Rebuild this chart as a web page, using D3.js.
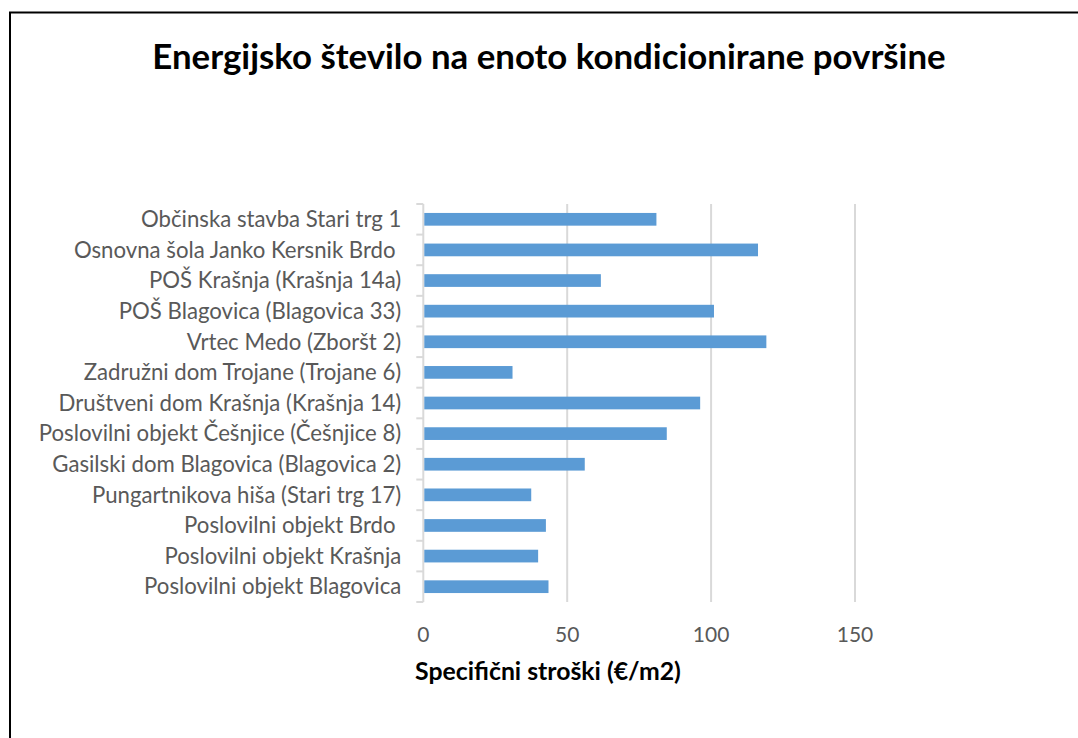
<!DOCTYPE html>
<html>
<head>
<meta charset="utf-8">
<script src="https://cdn.jsdelivr.net/npm/d3@7"></script>
<style>
  body { margin: 0; background: #fff; }
  svg { display: block; font-family: Lato, "Open Sans", sans-serif; }
</style>
</head>
<body>
<div class="chart"></div>
<script>
// categories top to bottom
const buildings = [
  "Občinska stavba Stari trg 1",
  "Osnovna šola Janko Kersnik Brdo ",
  "POŠ Krašnja (Krašnja 14a)",
  "POŠ Blagovica (Blagovica 33)",
  "Vrtec Medo (Zboršt 2)",
  "Zadružni dom Trojane (Trojane 6)",
  "Društveni dom Krašnja (Krašnja 14)",
  "Poslovilni objekt Češnjice (Češnjice 8)",
  "Gasilski dom Blagovica (Blagovica 2)",
  "Pungartnikova hiša (Stari trg 17)",
  "Poslovilni objekt Brdo ",
  "Poslovilni objekt Krašnja",
  "Poslovilni objekt Blagovica"
];
// specific costs in €/m2
const costs = [81.0, 116.3, 61.7, 101.0, 119.2, 31.0, 96.2, 84.6, 56.1, 37.5, 42.6, 39.9, 43.5];
const xTicks = [0, 50, 100, 150];

const titleText = "Energijsko število na enoto kondicionirane površine";
const xTitle = "Specifični stroški (€/m2)";

let width = 1078,
  height = 738,
  margin = { top: 204, right: 223, bottom: 136, left: 423.3 };

let svg = d3.select(".chart").append("svg")
  .attr("width", width)
  .attr("height", height);

// outer frame (runs off the right and bottom edges)
svg.append("rect")
  .attr("x", 10)
  .attr("y", 12.5)
  .attr("width", width + 20)
  .attr("height", height + 20)
  .attr("fill", "none")
  .attr("stroke", "#000")
  .attr("stroke-width", 2);

let x = d3.scaleLinear()
  .domain([0, 150])
  .range([margin.left, width - margin.right]);

let y = d3.scaleBand()
  .domain(buildings)
  .range([margin.top, height - margin.bottom])
  .paddingInner(0.585)
  .paddingOuter(0.2925);

// vertical gridlines
svg.append("g")
  .selectAll("line")
  .data(xTicks.filter((d) => d > 0))
  .join("line")
  .attr("x1", (d) => x(d))
  .attr("x2", (d) => x(d))
  .attr("y1", margin.top)
  .attr("y2", height - margin.bottom)
  .attr("stroke", "#d9d9d9")
  .attr("stroke-width", 2);

// category axis with ticks between the categories
let step = y.step();
let yAxis = svg.append("g");
yAxis.append("line")
  .attr("x1", x(0))
  .attr("x2", x(0))
  .attr("y1", margin.top)
  .attr("y2", height - margin.bottom)
  .attr("stroke", "#d9d9d9")
  .attr("stroke-width", 2);
yAxis.selectAll(".tick")
  .data(d3.range(buildings.length + 1))
  .join("line")
  .attr("class", "tick")
  .attr("x1", x(0) - 7)
  .attr("x2", x(0))
  .attr("y1", (i) => margin.top + i * step)
  .attr("y2", (i) => margin.top + i * step)
  .attr("stroke", "#d9d9d9")
  .attr("stroke-width", 2);

yAxis.selectAll("text")
  .data(buildings)
  .join("text")
  .attr("x", x(0) - 22)
  .attr("y", (d) => y(d) + y.bandwidth() / 2)
  .attr("dy", "0.35em")
  .attr("text-anchor", "end")
  .attr("fill", "#595959")
  .attr("font-size", "22.2px")
  .style("white-space", "pre")
  .text((d) => d);

// bars
svg.append("g")
  .selectAll("rect")
  .data(costs)
  .join("rect")
  .attr("x", x(0) + 1)
  .attr("y", (d, i) => y(buildings[i]))
  .attr("width", (d) => x(d) - x(0) - 1)
  .attr("height", y.bandwidth())
  .attr("fill", "#5b9bd5");

// value axis labels
svg.append("g")
  .selectAll("text")
  .data(xTicks)
  .join("text")
  .attr("x", (d) => x(d))
  .attr("y", 635)
  .attr("dy", "0.35em")
  .attr("text-anchor", "middle")
  .attr("fill", "#595959")
  .attr("font-size", "21px")
  .text((d) => d);

// axis title
svg.append("text")
  .attr("x", 548)
  .attr("y", 671)
  .attr("dy", "0.35em")
  .attr("text-anchor", "middle")
  .attr("fill", "#000")
  .attr("font-weight", "bold")
  .attr("font-size", "24.8px")
  .text(xTitle);

// chart title
svg.append("text")
  .attr("x", 549)
  .attr("y", 57)
  .attr("dy", "0.35em")
  .attr("text-anchor", "middle")
  .attr("fill", "#000")
  .attr("font-weight", "bold")
  .attr("font-size", "34.8px")
  .text(titleText);
</script>
</body>
</html>
